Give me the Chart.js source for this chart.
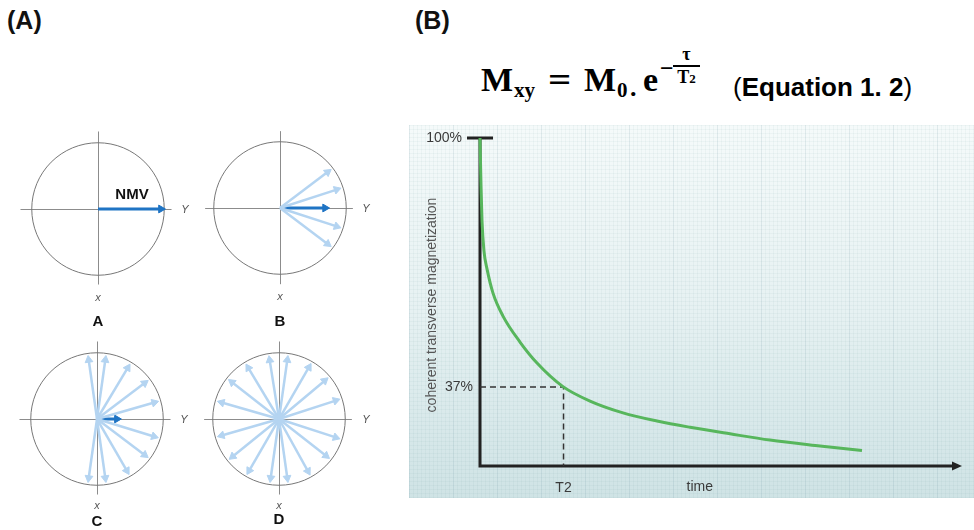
<!DOCTYPE html>
<html><head><meta charset="utf-8">
<script src="https://cdn.jsdelivr.net/npm/chart.js@4.4.1/dist/chart.umd.min.js"></script>
<style>
body{margin:0;background:#fff;width:974px;height:530px;position:relative;overflow:hidden;font-family:'Liberation Sans',Arial,sans-serif;color:#111}
.abs{position:absolute;white-space:nowrap}
.c{transform:translate(-50%,-50%)}
canvas{position:absolute}
.ttl{font-weight:bold;font-size:25px;line-height:25px}
.ax{font-style:italic;font-size:11px;color:#555}
.lt{font-weight:bold;font-size:15px}
.serif{font-family:'Liberation Serif','DejaVu Serif',serif;font-weight:bold;color:#000}
.big{font-size:34px;line-height:34px;top:63px}
.sub{font-size:21px;line-height:21px;top:80px}
</style></head><body>
<div class="abs ttl" style="left:7px;top:8px">(A)</div>
<div class="abs ttl" style="left:415px;top:8px">(B)</div>

<div class="abs serif big" style="left:481px">M</div>
<div class="abs serif sub" style="left:514px">xy</div>
<div class="abs serif big" style="left:548px;transform:scaleX(1.2);transform-origin:left">=</div>
<div class="abs serif big" style="left:584px">M</div>
<div class="abs serif sub" style="left:617px">0</div>
<div class="abs serif sub" style="left:630px;top:77px;font-size:26px">.</div>
<div class="abs serif big" style="left:643px">e</div>
<div class="abs serif" style="left:660px;top:56px;font-size:24px;line-height:24px">−</div>
<div class="abs serif" style="left:673px;top:45px;font-size:18px;line-height:18px;text-align:center;width:27px">τ<div style="border-top:2px solid #000;margin-top:2px;padding-top:1px">T<span style="font-size:13px">2</span></div></div>
<div class="abs" style="left:733px;top:73px;font-size:26px;line-height:28px;color:#000">(<b>Equation 1. 2</b>)</div>

<canvas id="cA" width="170" height="170" style="left:13px;top:124px"></canvas>
<canvas id="cB" width="170" height="170" style="left:195px;top:123px"></canvas>
<canvas id="cC" width="170" height="170" style="left:12px;top:334px"></canvas>
<canvas id="cD" width="170" height="170" style="left:194px;top:334px"></canvas>

<div class="abs lt c" style="left:132px;top:193px">NMV</div>
<div class="abs ax c" style="left:185px;top:209px">Y</div>
<div class="abs ax c" style="left:366px;top:208px">Y</div>
<div class="abs ax c" style="left:184px;top:419px">Y</div>
<div class="abs ax c" style="left:366px;top:419px">Y</div>
<div class="abs ax c" style="left:98px;top:297px">x</div>
<div class="abs ax c" style="left:280px;top:296px">x</div>
<div class="abs ax c" style="left:97px;top:505px">x</div>
<div class="abs ax c" style="left:279px;top:505px">x</div>
<div class="abs lt c" style="left:98px;top:320px">A</div>
<div class="abs lt c" style="left:280px;top:320px">B</div>
<div class="abs lt c" style="left:97px;top:520px">C</div>
<div class="abs lt c" style="left:279px;top:518px">D</div>

<canvas id="chartB" width="565" height="373" style="left:409px;top:125px"></canvas>

<script>
// ---------- Panel B data ----------
const curveTime  = [0, 0.21, 0.42, 0.83, 1.46, 2.71, 4.79, 8.33, 11.88, 17.29, 22.92, 29.79, 36.88, 43.75, 52.08, 60.42, 70.83, 79.58];
const curveLevel = [100, 85.4, 74.7, 65.5, 60.1, 52.7, 45.7, 37.8, 31.4, 24.2, 19.8, 16.2, 13.7, 11.8, 9.8, 7.9, 6.1, 4.7];
const yTickValues = [100, 24.1];
const yTickLabels = ['100%', '37%'];
const t2Time = 17.4;
const t2Level = 24.1;
const xTickValues = [17.4];
const xTickLabels = ['T2'];
const xTitleValue = 45.8;
const xTitle = 'time';
const yTitle = 'coherent transverse magnetization';

// ---------- Panel A data (arrow angles in degrees, lengths as fraction of radius) ----------
const diagramIds = ['cA', 'cB', 'cC', 'cD'];
const lightAnglesA = [];
const lightAnglesB = [37, 18, -18, -37];
const lightAnglesC = [98, 82, 59, 37, 16, -17, -37, -60, -82, -98];
const lightAnglesD = [99, 82, 60, 40, 18, -18, -38, -61, -82, -98, -120, -141, -164, 164, 142, 121];
const lightLength = 0.9;
const darkLengths = [0.95, 0.68, 0.3, 0];
const axisExtents = [ // [left, right, top, bottom] in radius units
  [-1.17, 1.11, 1.17, -1.14],
  [-1.13, 1.1, 1.16, -1.15],
  [-1.17, 1.11, 1.17, -1.14],
  [-1.13, 1.1, 1.17, -1.14]
];

const LIGHT = '#b4d4f1';
const DARK = '#1f74c4';

const circlePlugin = {
  id: 'circ',
  beforeDatasetsDraw(chart, args, opts) {
    const {ctx, scales: {x, y}} = chart;
    const cx = x.getPixelForValue(0), cy = y.getPixelForValue(0);
    const r = x.getPixelForValue(1) - cx;
    const e = opts.ext;
    ctx.save();
    ctx.strokeStyle = '#8c8c8c'; ctx.lineWidth = 1;
    ctx.beginPath();
    ctx.moveTo(x.getPixelForValue(e[0]), Math.round(cy) + 0.5);
    ctx.lineTo(x.getPixelForValue(e[1]), Math.round(cy) + 0.5);
    ctx.moveTo(Math.round(cx) + 0.5, y.getPixelForValue(e[2]));
    ctx.lineTo(Math.round(cx) + 0.5, y.getPixelForValue(e[3]));
    ctx.stroke();
    ctx.strokeStyle = '#777';
    ctx.beginPath(); ctx.arc(cx, cy, r, 0, Math.PI * 2); ctx.stroke();
    ctx.restore();
  }
};

function arrowDataset(angle, len, color, width, head) {
  const t = angle * Math.PI / 180;
  return {
    data: [{x: 0, y: 0}, {x: len * Math.cos(t), y: len * Math.sin(t)}],
    showLine: true, borderColor: color, borderWidth: width, clip: false,
    pointStyle: 'triangle', pointRadius: [0, head], pointRotation: [0, 90 - angle],
    pointBackgroundColor: color, pointBorderColor: color, pointBorderWidth: 1
  };
}

const lightSets = [lightAnglesA, lightAnglesB, lightAnglesC, lightAnglesD];
diagramIds.forEach((id, i) => {
  const ds = lightSets[i].map(a => arrowDataset(a, lightLength, LIGHT, 2.5, 4.5));
  if (darkLengths[i] > 0) ds.push(arrowDataset(0, darkLengths[i], DARK, 3, 4.5));
  new Chart(document.getElementById(id), {
    type: 'scatter',
    data: {datasets: ds},
    options: {
      responsive: false, animation: false, events: [],
      layout: {padding: 0},
      plugins: {legend: {display: false}, tooltip: {enabled: false}, circ: {ext: axisExtents[i]}},
      scales: {x: {display: false, min: -1.2, max: 1.2}, y: {display: false, min: -1.2, max: 1.2}}
    },
    plugins: [circlePlugin]
  });
});

// ---------- Panel B chart ----------
const bgPlugin = {
  id: 'bgGrid',
  beforeDraw(chart) {
    const {ctx, width, height} = chart;
    ctx.save();
    const g = ctx.createLinearGradient(0, 0, 0, height);
    g.addColorStop(0, '#f5fafa');
    g.addColorStop(0.5, '#e6f1f2');
    g.addColorStop(1, '#cfe3e5');
    ctx.fillStyle = g; ctx.fillRect(0, 0, width, height);
    ctx.lineWidth = 1;
    for (let i = 0; i < width; i += 4) {
      ctx.strokeStyle = (i % 44 === 0) ? 'rgba(110,150,160,0.16)' : 'rgba(110,150,160,0.06)';
      ctx.beginPath(); ctx.moveTo(i + 0.5, 0); ctx.lineTo(i + 0.5, height); ctx.stroke();
    }
    for (let j = 0; j < height; j += 4) {
      ctx.strokeStyle = 'rgba(110,150,160,0.06)';
      ctx.beginPath(); ctx.moveTo(0, j + 0.5); ctx.lineTo(width, j + 0.5); ctx.stroke();
    }
    ctx.restore();
  }
};

const axesPlugin = {
  id: 'axesB',
  beforeDatasetsDraw(chart) {
    const {ctx, scales: {x, y}} = chart;
    const x0 = x.getPixelForValue(0), y0 = y.getPixelForValue(0);
    const yTop = y.getPixelForValue(100), xEnd = x.getPixelForValue(100);
    ctx.save();
    ctx.strokeStyle = '#222'; ctx.fillStyle = '#222'; ctx.lineWidth = 3; ctx.lineCap = 'butt';
    ctx.beginPath();
    ctx.moveTo(x0, yTop); ctx.lineTo(x0, y0 + 1.5);
    ctx.moveTo(x0 - 1.5, y0); ctx.lineTo(xEnd - 6, y0);
    ctx.moveTo(x0 - 13, yTop); ctx.lineTo(x0 + 13, yTop);
    ctx.stroke();
    ctx.beginPath();
    ctx.moveTo(xEnd + 2, y0); ctx.lineTo(xEnd - 8, y0 - 4.5); ctx.lineTo(xEnd - 8, y0 + 4.5); ctx.closePath(); ctx.fill();
    ctx.restore();
  },
  afterDraw(chart) {
    const {ctx, scales: {x, y}} = chart;
    const x0 = x.getPixelForValue(0), y0 = y.getPixelForValue(0);
    ctx.save();
    ctx.font = '14px "Liberation Sans", Arial, sans-serif';
    ctx.fillStyle = '#3a3a3a';
    ctx.textAlign = 'right'; ctx.textBaseline = 'middle';
    ctx.fillText(yTickLabels[0], x0 - 18, y.getPixelForValue(yTickValues[0]));
    ctx.fillText(yTickLabels[1], x0 - 7, y.getPixelForValue(yTickValues[1]));
    ctx.textAlign = 'center';
    xTickValues.forEach((v, i) => ctx.fillText(xTickLabels[i], x.getPixelForValue(v), y0 + 22));
    ctx.fillText(xTitle, x.getPixelForValue(xTitleValue), y0 + 21);
    ctx.fillStyle = '#555';
    ctx.translate(23, (y.getPixelForValue(100) + y0) / 2 + 3);
    ctx.rotate(-Math.PI / 2);
    ctx.fillText(yTitle, 0, 0);
    ctx.restore();
  }
};

new Chart(document.getElementById('chartB'), {
  type: 'line',
  data: {
    datasets: [
      {
        data: curveTime.map((t, i) => ({x: t, y: curveLevel[i]})),
        borderColor: '#57b65c', borderWidth: 3, pointRadius: 0,
        cubicInterpolationMode: 'monotone', clip: false
      },
      {
        data: [{x: 0, y: t2Level}, {x: t2Time, y: t2Level}, {x: t2Time, y: 0}],
        borderColor: '#333', borderWidth: 1.5, borderDash: [6, 4],
        pointRadius: 0, tension: 0
      }
    ]
  },
  options: {
    responsive: false, animation: false, events: [],
    layout: {padding: {left: 71, top: 13, right: 14, bottom: 32}},
    plugins: {legend: {display: false}, tooltip: {enabled: false}},
    scales: {x: {type: 'linear', display: false, min: 0, max: 100}, y: {display: false, min: 0, max: 100}}
  },
  plugins: [bgPlugin, axesPlugin]
});
</script>
</body></html>
